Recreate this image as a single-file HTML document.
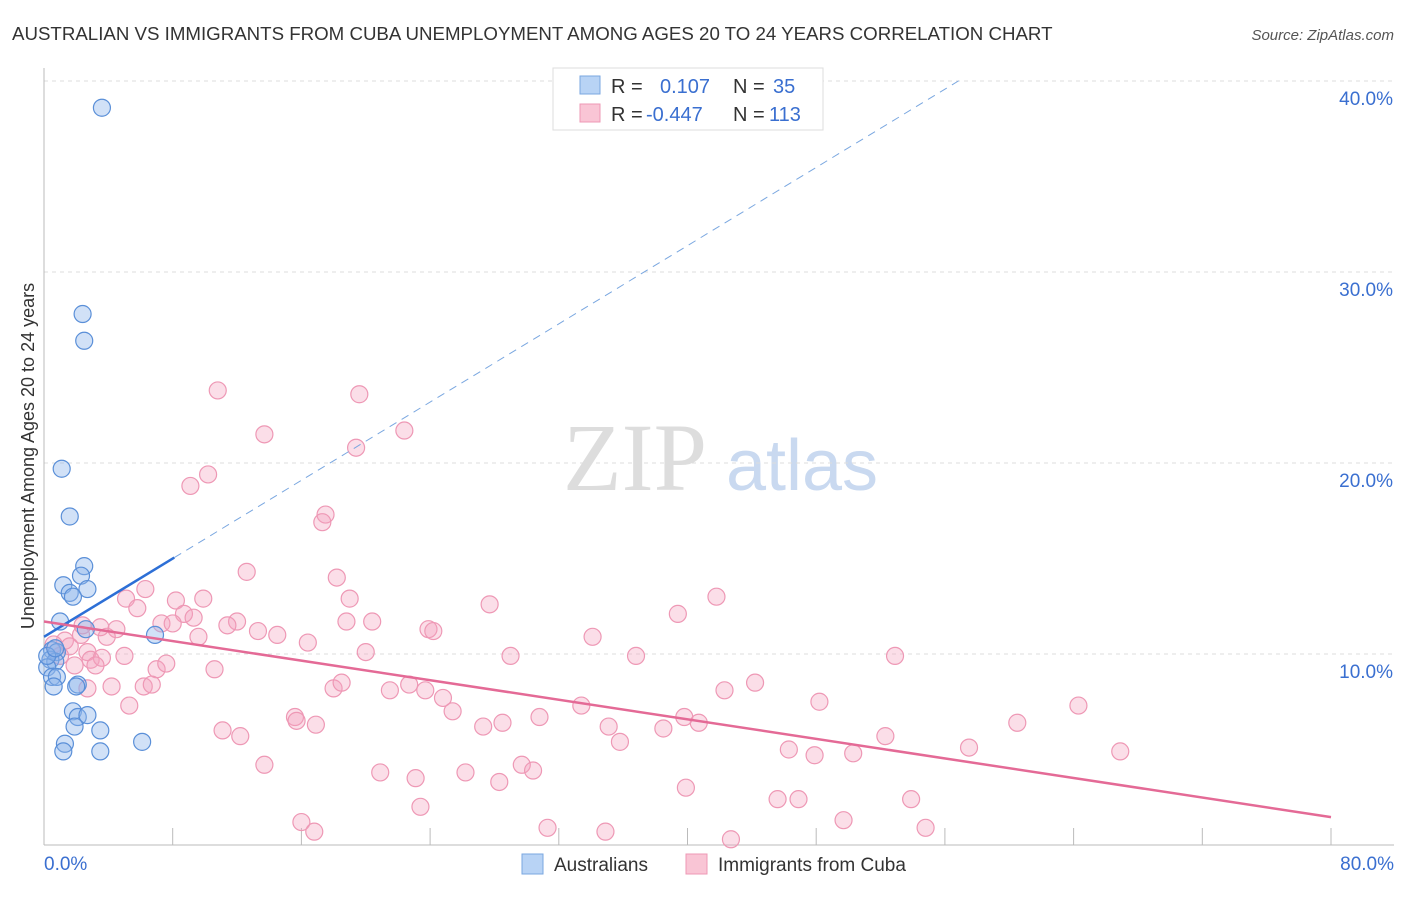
<!DOCTYPE html>
<html><head><meta charset="utf-8"><style>
body{margin:0;background:#fff;font-family:"Liberation Sans",sans-serif}
</style></head><body>
<svg id="chart" width="1406" height="892" xmlns="http://www.w3.org/2000/svg" font-family="Liberation Sans, sans-serif">
<text x="12" y="40" font-size="18.7" fill="#333">AUSTRALIAN VS IMMIGRANTS FROM CUBA UNEMPLOYMENT AMONG AGES 20 TO 24 YEARS CORRELATION CHART</text>
<text x="1394" y="40" font-size="15" fill="#555" text-anchor="end" font-style="italic">Source: ZipAtlas.com</text>
<text transform="translate(34,456) rotate(-90)" font-size="18" fill="#333" text-anchor="middle">Unemployment Among Ages 20 to 24 years</text>
<g><text x="635" y="490" font-size="96" fill="#ddd" text-anchor="middle" font-family="Liberation Serif, serif">ZIP</text><text x="802" y="490" font-size="72" fill="#c9d9f0" text-anchor="middle">atlas</text></g>
<g id="grid"></g><g id="axes"></g><g id="pts"></g><g id="trend"></g>
<g>
<rect x="553" y="68" width="270" height="62" fill="#fff" stroke="#ddd"/>
<rect x="580" y="76" width="20" height="18" fill="#b8d3f5" stroke="#7aa7e0"/>
<rect x="580" y="104" width="20" height="18" fill="#f9c5d5" stroke="#ee98b5"/>
<text x="611" y="93" font-size="20" fill="#333">R = <tspan fill="#3a6fd0" x="660">0.107</tspan><tspan x="733" fill="#333">N = </tspan><tspan fill="#3a6fd0" x="773">35</tspan></text>
<text x="611" y="121" font-size="20" fill="#333">R = <tspan fill="#3a6fd0" x="646">-0.447</tspan><tspan x="733" fill="#333">N = </tspan><tspan fill="#3a6fd0" x="769">113</tspan></text>
</g>
<g>
<rect x="522" y="854" width="21" height="20" fill="#b8d3f5" stroke="#7aa7e0"/>
<text x="554" y="871" font-size="19" fill="#333">Australians</text>
<rect x="686" y="854" width="21" height="20" fill="#f9c5d5" stroke="#ee98b5"/>
<text x="718" y="871" font-size="19" fill="#333">Immigrants from Cuba</text>
</g>
</svg>
<script>
const yTicks=[10,20,30,40];
const yTickLabels=["10.0%","20.0%","30.0%","40.0%"];
const xTickLabels=["0.0%","80.0%"];
const ausX=[3.6,2.4,2.5,1.1,1.6,2.5,2.3,1.2,1.6,1.8,2.7,1.0,2.6,6.9,0.5,0.8,0.4,0.7,0.2,0.5,0.8,0.6,2.1,2.0,1.8,2.1,2.7,1.9,3.5,1.3,1.2,3.5,6.1,0.2,0.7];
const ausY=[38.6,27.8,26.4,19.7,17.2,14.6,14.1,13.6,13.2,13.0,13.4,11.7,11.3,11.0,10.2,10.1,9.7,9.6,9.3,8.8,8.8,8.3,8.4,8.3,7.0,6.7,6.8,6.2,6.0,5.3,4.9,4.9,5.4,9.9,10.3];
const cubX=[10.8,19.6,13.7,22.4,19.4,10.2,9.1,17.5,17.3,12.6,18.2,6.3,5.1,9.9,8.2,19.0,27.7,41.8,5.8,8.7,9.3,7.3,8.0,12.0,11.4,18.8,20.4,39.4,4.5,13.3,23.9,24.2,14.5,2.3,9.6,3.9,34.1,1.3,1.6,2.7,2.9,3.6,5.0,16.4,20.0,29.0,36.8,52.9,3.2,1.9,7.0,7.6,10.6,0.6,1.0,4.2,2.7,6.2,6.7,18.0,18.5,21.5,22.7,23.7,24.8,42.3,44.2,48.2,5.3,25.4,33.4,64.3,15.6,15.7,16.9,27.3,28.5,30.8,35.1,38.5,39.8,40.7,60.5,11.1,12.2,35.8,52.3,46.3,47.9,50.3,57.5,66.9,13.7,20.9,23.1,26.2,29.7,30.4,28.3,39.9,45.6,46.9,53.9,23.4,16.0,16.8,31.3,34.9,49.7,54.8,42.7,2.4,3.5];
const cubY=[23.8,23.6,21.5,21.7,20.8,19.4,18.8,17.3,16.9,14.3,14.0,13.4,12.9,12.9,12.8,12.9,12.6,13.0,12.4,12.1,11.9,11.6,11.6,11.7,11.5,11.7,11.7,12.1,11.3,11.2,11.3,11.2,11.0,11.0,10.9,10.9,10.9,10.7,10.4,10.1,9.7,9.8,9.9,10.6,10.1,9.9,9.9,9.9,9.4,9.4,9.2,9.5,9.2,10.5,9.9,8.3,8.2,8.3,8.4,8.2,8.5,8.1,8.4,8.1,7.7,8.1,8.5,7.5,7.3,7.0,7.3,7.3,6.7,6.5,6.3,6.2,6.4,6.7,6.2,6.1,6.7,6.4,6.4,6.0,5.7,5.4,5.7,5.0,4.7,4.8,5.1,4.9,4.2,3.8,3.5,3.8,4.2,3.9,3.3,3.0,2.4,2.4,2.4,2.0,1.2,0.7,0.9,0.7,1.3,0.9,0.3,11.5,11.4];
const ausTrend=[10.9,0.512], cubTrend=[11.7,-0.128];
const NS="http://www.w3.org/2000/svg";
const sx=v=>44+v*(1331-44)/80, sy=v=>845-v*19.1;
function mk(tag,attrs,parent){const e=document.createElementNS(NS,tag);for(const k in attrs)e.setAttribute(k,attrs[k]);document.getElementById(parent).appendChild(e);return e;}
yTicks.forEach((t,i)=>{
 const g=mk('line',{x1:44,x2:1394,y1:sy(t),y2:sy(t),stroke:'#ddd','stroke-dasharray':'4,4'},'grid');
 
 
 const tx=mk('text',{x:1393,y:sy(t)+24,'font-size':19,fill:'#3a6fd0','text-anchor':'end'},'grid');
 tx.textContent=yTickLabels[i];
 
 
});
const ya=mk('line',{x1:44,x2:44,y1:68,y2:845,stroke:'#bbb'},'axes');


const xa=mk('line',{x1:44,x2:1394,y1:845,y2:845,stroke:'#bbb'},'axes');


for(let i=1;i<=10;i++){const tk=mk('line',{x1:sx(i*8),x2:sx(i*8),y1:828,y2:845,stroke:'#bbb'},'axes');
 
 }
[[0,'start',44],[80,'end',1394]].forEach((d,i)=>{const t=mk('text',{x:d[2],y:870,'font-size':19,fill:'#3a6fd0','text-anchor':d[1]},'axes');t.textContent=xTickLabels[i];
 
 });
cubX.forEach((x,i)=>{const c=mk('circle',{cx:sx(x),cy:sy(cubY[i]),r:8.5,fill:'rgba(244,160,188,0.35)',stroke:'#ee98b5','stroke-width':1.2},'pts');
 
 });
ausX.forEach((x,i)=>{const c=mk('circle',{cx:sx(x),cy:sy(ausY[i]),r:8.5,fill:'rgba(140,180,235,0.4)',stroke:'#5a8fd8','stroke-width':1.2},'pts');
 
 });
const f=(t,x)=>t[0]+t[1]*x;
let l=mk('line',{x1:sx(0),y1:sy(f(ausTrend,0)),x2:sx(8.1),y2:sy(f(ausTrend,8.1)),stroke:'#2d6fd6','stroke-width':2.5},'trend');


l=mk('line',{x1:sx(8.1),y1:sy(f(ausTrend,8.1)),x2:sx(56.9),y2:sy(f(ausTrend,56.9)),stroke:'#7aa7e0','stroke-width':1,'stroke-dasharray':'8,6'},'trend');


l=mk('line',{x1:sx(0),y1:sy(f(cubTrend,0)),x2:sx(80),y2:sy(f(cubTrend,80)),stroke:'#e46a96','stroke-width':2.5},'trend');


</script>
</body></html>
